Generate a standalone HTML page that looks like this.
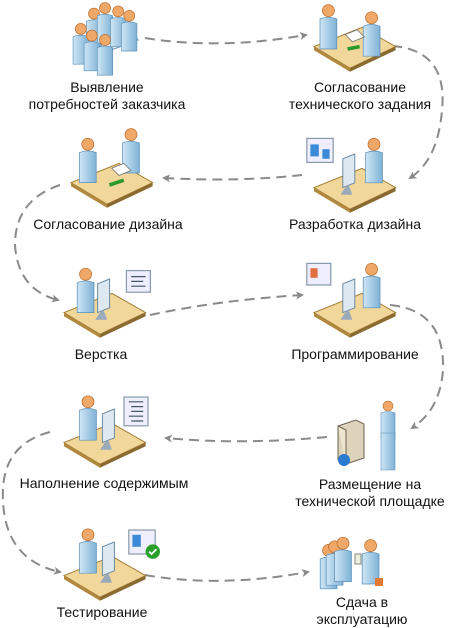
<!DOCTYPE html>
<html><head><meta charset="utf-8"><style>
body{margin:0;background:#fff}
svg{display:block}
text{font-family:"Liberation Sans",sans-serif;font-size:14px;fill:#111;text-anchor:middle}
</style></head><body>
<svg width="450" height="628" viewBox="0 0 450 628">
<defs>
<marker id="a" markerWidth="8" markerHeight="8" refX="6" refY="4" orient="auto" markerUnits="userSpaceOnUse"><path d="M0,0 L8,4 L0,8 L2,4z" fill="#8a8a8a"/></marker>
<linearGradient id="bd" x1="0" x2="1"><stop offset="0" stop-color="#cfe6f5"/><stop offset="1" stop-color="#7fb2d6"/></linearGradient>
<g id="p"><circle cx="0" cy="-14" r="5" fill="#f0a868" stroke="#b86a2a" stroke-width=".6"/><path d="M-7,-7 Q0,-10 7,-7 L7,18 L-7,18z" fill="url(#bd)" stroke="#5a8fb8" stroke-width=".6"/></g>
<g id="desk"><path d="M-30,8 L10,-8 L38,8 L0,26z" fill="#f2d79a" stroke="#a07a30" stroke-width=".8"/><path d="M-30,8 L0,26 L0,29 L-30,11z" fill="#b08840"/><path d="M0,26 L38,8 L38,11 L0,29z" fill="#8a6a30"/></g>
<g id="mon"><path d="M-2,-14 L8,-18 L8,6 L-2,10z" fill="#dde8f0" stroke="#6a88a0" stroke-width=".8"/><path d="M0,10 L-4,16 L6,16 L3,8z" fill="#9ab"/></g>
</defs>
<g fill="none" stroke="#8a8a8a" stroke-width="2" stroke-dasharray="10,6">
<path d="M145,38 Q220,50 306,35" marker-end="url(#a)"/>
<path d="M392,46 Q448,50 442,110 Q438,160 410,178" marker-end="url(#a)"/>
<path d="M302,175 Q240,182 164,178" marker-end="url(#a)"/>
<path d="M60,185 Q15,200 15,245 Q18,290 58,300" marker-end="url(#a)"/>
<path d="M150,315 Q220,300 302,295" marker-end="url(#a)"/>
<path d="M390,305 Q445,310 443,370 Q440,410 412,428" marker-end="url(#a)"/>
<path d="M327,437 Q240,445 166,438" marker-end="url(#a)"/>
<path d="M50,432 Q0,445 3,500 Q5,560 60,572" marker-end="url(#a)"/>
<path d="M145,575 Q220,588 308,572" marker-end="url(#a)"/>
</g>
<g transform="translate(105,40) scale(1.1)"><path d="M-20,0 L20,-15 L30,0 L-10,15z" fill="#e8eef5" stroke="#7a9ab8"/>
<use href="#p" x="-10" y="-10"/><use href="#p" x="0" y="-15"/><use href="#p" x="12" y="-12"/><use href="#p" x="22" y="-8"/>
<use href="#p" x="-22" y="4"/><use href="#p" x="-12" y="10"/><use href="#p" x="0" y="14"/></g>
<g transform="translate(350,37) scale(1.2)"><use href="#desk"/><use href="#p" x="-18" y="-8"/><use href="#p" x="18" y="-2"/><path d="M-4,-2 L6,-6 L12,0 L2,4z" fill="#fff" stroke="#666" stroke-width=".6"/><path d="M-2,10 L8,8" stroke="#2a9a2a" stroke-width="3"/></g>
<g transform="translate(107,173) scale(1.2)"><use href="#desk"/><use href="#p" x="-16" y="-10"/><use href="#p" x="20" y="-18"/><path d="M4,-4 L14,-8 L20,-2 L10,2z" fill="#fff" stroke="#666" stroke-width=".6"/><path d="M2,10 L14,6" stroke="#2a9a2a" stroke-width="3"/></g>
<g transform="translate(350,178) scale(1.2)"><use href="#desk"/><use href="#mon" x="-4" y="-2"/><use href="#p" x="20" y="-14"/><rect x="-36" y="-33" width="22" height="20" fill="#eef" stroke="#89a"/><rect x="-33" y="-28" width="7" height="10" fill="#3a8ad8"/><rect x="-23" y="-24" width="6" height="8" fill="#3a8ad8"/></g>
<g transform="translate(100,303) scale(1.2)"><use href="#desk"/><use href="#mon" x="0" y="-2"/><use href="#p" x="-12" y="-10"/><rect x="22" y="-27" width="20" height="18" fill="#eef" stroke="#89a"/><path d="M26,-22h12M26,-18h10M26,-14h12" stroke="#456"/></g>
<g transform="translate(350,303) scale(1.2)"><use href="#desk"/><use href="#mon" x="-4" y="-2"/><use href="#p" x="18" y="-14"/><rect x="-36" y="-33" width="20" height="18" fill="#eef" stroke="#89a"/><rect x="-33" y="-29" width="6" height="8" fill="#e07040"/></g>
<g transform="translate(100,433) scale(1.2)"><use href="#desk"/><use href="#mon" x="4" y="-2"/><use href="#p" x="-10" y="-12"/><rect x="20" y="-30" width="20" height="24" fill="#eef" stroke="#89a"/><path d="M24,-26h12M26,-22h10M26,-18h10M24,-14h12M26,-10h10" stroke="#456"/></g>
<g transform="translate(350,440)"><path d="M-12,-14 L6,-20 L14,-16 L14,18 L-4,24 L-12,20z" fill="#ddd3bb" stroke="#6a6050"/><path d="M-12,-14 L-4,-10 L-4,24" stroke="#6a6050" fill="#efe6d0"/><circle cx="-6" cy="20" r="6" fill="#2a7ad0"/><use href="#p" x="38" y="-20"/><path d="M31,-7 L45,-7 L45,30 L31,30z" fill="url(#bd)" stroke="#5a8fb8" stroke-width=".6"/></g>
<g transform="translate(100,566) scale(1.2)"><use href="#desk"/><use href="#mon" x="4" y="-2"/><use href="#p" x="-10" y="-12"/><rect x="24" y="-30" width="22" height="20" fill="#eef" stroke="#89a"/><rect x="27" y="-26" width="7" height="10" fill="#3a8ad8"/><circle cx="44" cy="-12" r="6" fill="#2aa02a"/><path d="M41,-12 l2,2 l4,-4" stroke="#fff" stroke-width="1.5" fill="none"/></g>
<g transform="translate(355,560)"><g transform="scale(1.2)"><use href="#p" x="-22" y="6"/><use href="#p" x="-17" y="3"/><use href="#p" x="-10" y="0"/><use href="#p" x="13" y="2"/></g><rect x="0" y="-6" width="6" height="10" fill="#eed" stroke="#888"/><rect x="20" y="18" width="8" height="8" fill="#e07a30"/></g>
<text x="107" y="92">Выявление</text><text x="107" y="109">потребностей заказчика</text>
<text x="360" y="92">Согласование</text><text x="360" y="109">технического задания</text>
<text x="108" y="229">Согласование дизайна</text>
<text x="355" y="229">Разработка дизайна</text>
<text x="101" y="359">Верстка</text>
<text x="355" y="359">Программирование</text>
<text x="104" y="488">Наполнение содержимым</text>
<text x="370" y="489">Размещение на</text><text x="370" y="506">технической площадке</text>
<text x="102" y="617">Тестирование</text>
<text x="362" y="607">Сдача в</text><text x="362" y="624">эксплуатацию</text>
</svg>
</body></html>
